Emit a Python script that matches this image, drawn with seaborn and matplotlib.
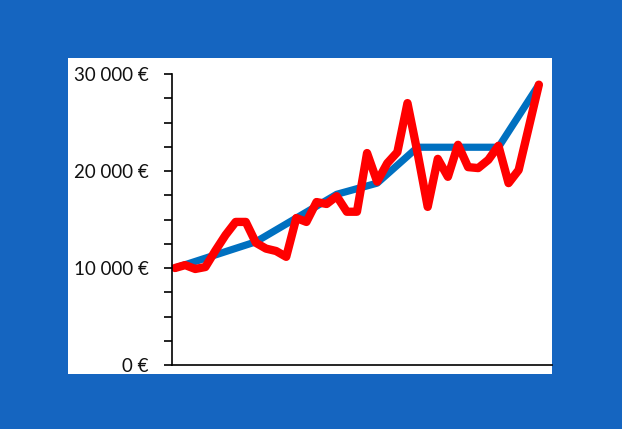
import numpy as np
import pandas as pd
import matplotlib
matplotlib.use("Agg")
import matplotlib.pyplot as plt
from matplotlib.ticker import MultipleLocator, FuncFormatter
import seaborn as sns

# monthly values (red) and plan line (blue)
red_values = [10000, 10300, 9900, 10100, 11800, 13400, 14750, 14750, 12600,
              12000, 11750, 11150, 15150, 14750, 16800, 16600, 17400, 15800,
              15800, 21850, 18900, 20800, 21950, 27000, 21850, 16300, 21250,
              19400, 22700, 20400, 20300, 21150, 22600, 18750, 20100, 24500,
              28900]
blue_months = [0, 8, 16, 20, 24, 32, 36]
blue_values = [10000, 12700, 17600, 18750, 22450, 22450, 28900]
y_ticks = [0, 10000, 20000, 30000]

BG_BLUE = "#1565C0"
LINE_BLUE = "#0070C0"
LINE_RED = "#FF0000"

red_df = pd.DataFrame({"month": np.arange(len(red_values)), "value": red_values})
blue_df = pd.DataFrame({"month": blue_months, "value": blue_values})

sns.set_style("white")
plt.rcParams["font.family"] = ["Lato", "DejaVu Sans"]

fig = plt.figure(figsize=(6.22, 4.29), dpi=100, facecolor=BG_BLUE)

# white panel behind the chart
panel = fig.add_axes([68 / 622, 1 - 374 / 429, (552 - 68) / 622, (374 - 58) / 429])
panel.set_facecolor("white")
panel.set_xticks([])
panel.set_yticks([])
for s in panel.spines.values():
    s.set_visible(False)

ax = fig.add_axes([172 / 622, 1 - 365 / 429, (552 - 172) / 622, (365 - 74) / 429])
ax.patch.set_alpha(0)

sns.lineplot(data=blue_df, x="month", y="value", ax=ax, color=LINE_BLUE,
             linewidth=5.2, solid_joinstyle="round", solid_capstyle="round")
sns.lineplot(data=red_df, x="month", y="value", ax=ax, color=LINE_RED,
             linewidth=6.0, solid_joinstyle="round", solid_capstyle="round")

ax.set_xlim(-0.3, 37.3)
ax.set_ylim(0, 30000)
ax.set_yticks(y_ticks)
ax.yaxis.set_minor_locator(MultipleLocator(2500))
ax.yaxis.set_major_formatter(FuncFormatter(lambda v, p: f"{int(v):,} €".replace(",", " ")))
ax.set_xticks([])
ax.set_xlabel("")
ax.set_ylabel("")

for side in ["top", "right"]:
    ax.spines[side].set_visible(False)
for side in ["left", "bottom"]:
    ax.spines[side].set_color("black")
    ax.spines[side].set_linewidth(1.2)

ax.tick_params(axis="y", which="both", left=True, direction="out", length=6,
               width=1.2, color="black")
ax.tick_params(axis="y", which="major", labelsize=13.5, pad=11, labelcolor="#111111")

fig.savefig("out.png", dpi=100, facecolor=BG_BLUE)
